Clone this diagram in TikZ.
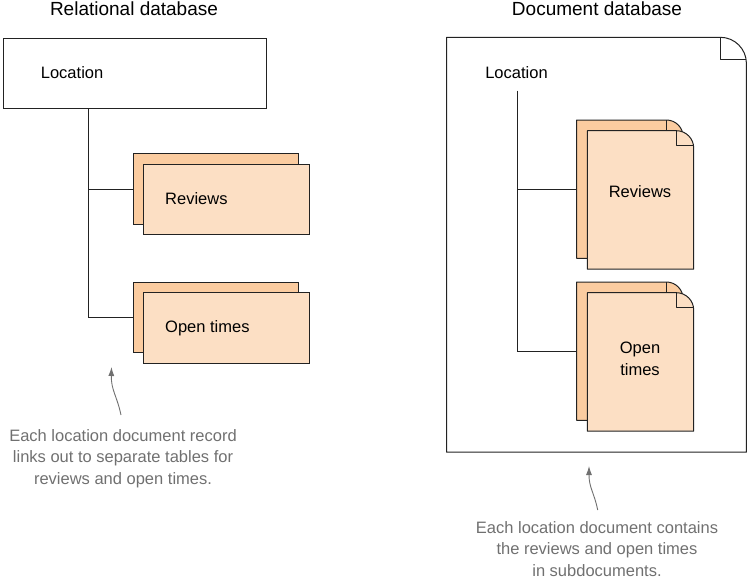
\documentclass[tikz,border=0pt]{standalone}
\usepackage{fontspec}
\setmainfont{Liberation Sans}
\usetikzlibrary{calc,arrows.meta}
\definecolor{linec}{RGB}{34,34,34}
\definecolor{backfill}{RGB}{251,204,160}
\definecolor{frontfill}{RGB}{252,223,196}
\definecolor{notegray}{RGB}{112,112,112}
% folded sheet: name, x, y, width, height, fill, fold
\newcommand{\paperdoc}[7]{%
  \node[inner sep=0, minimum width=#4pt, minimum height=#5pt, anchor=north west] (#1) at (#2,#3) {};
  \draw[sheet, fill=#6] (#1.south west) -- (#1.north west) -- ($(#1.north east)+(-#7,0)$)
    .. controls ($(#1.north east)+(-0.45*#7,0)$) and ($(#1.north east)+(0,0.45*#7)$) .. ($(#1.north east)+(0,#7)$)
    -- (#1.south east) -- cycle;
  \draw[sheet] ($(#1.north east)+(-#7,0)$) -- ($(#1.north east)+(-#7,0.86*#7)$) -- ($(#1.north east)+(-0.02*#7,0.86*#7)$);
}
\begin{document}
\begin{tikzpicture}[x=1pt,y=-1pt,
  sheet/.style={draw=linec, line width=1pt, line join=round},
  tblback/.style={draw=linec, line width=1pt, fill=backfill, inner sep=0, anchor=north west},
  tblfront/.style={draw=linec, line width=1pt, fill=frontfill, inner sep=0, anchor=north west},
  link/.style={draw=linec, line width=1pt},
  title/.style={font=\fontsize{19}{23}\selectfont, inner sep=0, anchor=base},
  label/.style={font=\fontsize{16.5}{21.6}\selectfont, inner sep=0},
  note/.style={font=\fontsize{16.5}{21.6}\selectfont, text=notegray, align=center, inner sep=0, anchor=north},
  notearrow/.style={draw=notegray, line width=0.9pt, -{Latex[length=9pt,width=6pt]}}]
\useasboundingbox (0,0) rectangle (750,579);

% relational side
\node[title] (reltitle) at (134,15.5) {Relational database};
\node[draw=linec, line width=1pt, inner sep=0, minimum width=263pt, minimum height=70pt, anchor=north west] (loc) at (3,37.5) {};
\node[label, anchor=base west] (loctext) at (40.7,78) {Location};
\coordinate (ltrunk) at ([xshift=85pt]loc.south west);

\node[tblback, minimum width=165.6pt, minimum height=70.7pt] (revb) at (132.7,153.3) {};
\node[tblfront, minimum width=165.7pt, minimum height=70.3pt] (revf) at (143.3,164) {};
\node[label, anchor=base west] (revtext) at (165,204) {Reviews};
\node[tblback, minimum width=165.6pt, minimum height=70.6pt] (otb) at (132.7,281.7) {};
\node[tblfront, minimum width=165.7pt, minimum height=70.4pt] (otf) at (143.3,292.3) {};
\node[label, anchor=base west] (ottext) at (165,332) {Open times};

\draw[link] (ltrunk) |- (otb.west);
\draw[link] (revb.west) -- (revb.west -| ltrunk);

\node[note] (lnote) at (123,429) {Each location document record\\links out to separate tables for\\reviews and open times.};
\coordinate (ltail) at (121,415);
\coordinate (ltip) at (111.5,367);
\draw[notearrow] (ltail) .. controls (117,396) and (111,390) .. (ltip);

% document side
\node[title] (doctitle) at (597,15.5) {Document database};
\paperdoc{ddoc}{446.5}{37.3}{299.5}{414.5}{white}{26}
\node[label, anchor=base] (dloc) at (516.5,78) {Location};
\coordinate (dtrunk) at (517.3,90.7);

\paperdoc{drevb}{576.7}{120}{106}{138}{backfill}{16.7}
\paperdoc{drevf}{587.3}{130.7}{106}{138}{frontfill}{17.3}
\node[label] (drevtext) at (640,192) {Reviews};
\paperdoc{dotb}{576.7}{282}{106}{138}{backfill}{16.7}
\paperdoc{dotf}{587.3}{292.7}{106}{138}{frontfill}{17.3}
\node[label, align=center, anchor=north] (dottext) at (640,342) {Open\\times};

\draw[link] (dtrunk) |- (dotb.west);
\draw[link] (drevb.west) -- (drevb.west -| dtrunk);

\node[note] (rnote) at (597,521) {Each location document contains\\the reviews and open times\\in subdocuments.};
\coordinate (rtail) at (597.7,510);
\coordinate (rtip) at (589,466);
\draw[notearrow] (rtail) .. controls (594,492) and (589,488) .. (rtip);
\end{tikzpicture}
\end{document}
